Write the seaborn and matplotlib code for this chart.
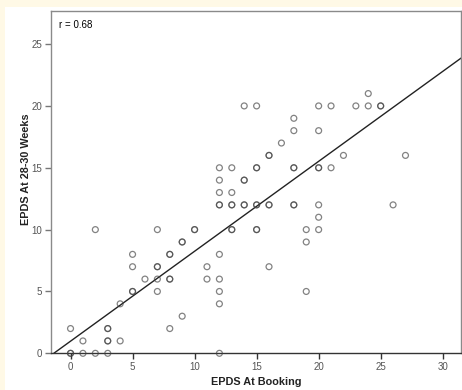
import matplotlib.pyplot as plt
import seaborn as sns
import pandas as pd
from matplotlib.patches import Rectangle

# EPDS scores (duplicates = darker overlapping circles)
booking = [0, 0, 1, 2, 3, 0, 1, 3, 3, 3, 3, 4, 4, 2, 5, 5, 5, 5, 6, 7,
           7, 7, 7, 7, 8, 8, 8, 8, 8, 9, 9, 9, 10, 10, 11, 11, 12, 12, 12, 12,
           12, 12, 12, 12, 12, 12, 13, 13, 13, 13, 13, 13, 14, 14, 14, 14, 14, 15, 15, 15,
           15, 15, 15, 15, 16, 16, 16, 16, 16, 17, 18, 18, 18, 18, 18, 18, 19, 19, 19, 20,
           20, 20, 20, 20, 20, 20, 21, 21, 22, 23, 24, 24, 25, 25, 26, 27]
weeks_28_30 = [0, 0, 0, 0, 0, 2, 1, 2, 2, 1, 1, 1, 4, 10, 5, 5, 7, 8, 6, 10,
               7, 7, 6, 5, 8, 8, 6, 6, 2, 9, 9, 3, 10, 10, 7, 6, 8, 6, 5, 4,
               0, 15, 14, 13, 12, 12, 15, 13, 12, 12, 10, 10, 20, 14, 14, 12, 12, 20, 15, 15,
               12, 12, 10, 10, 16, 16, 12, 12, 7, 17, 19, 18, 15, 15, 12, 12, 10, 9, 5, 20,
               18, 15, 15, 12, 11, 10, 20, 15, 16, 20, 21, 20, 20, 20, 12, 16]
r_text = "r = 0.68"

# fit line as drawn in the original (full sample)
fit_intercept = 0.98
fit_slope = 0.727

x_ticks = [0, 5, 10, 15, 20, 25, 30]
y_ticks = [0, 5, 10, 15, 20, 25]
x_range = (-1.6, 31.5)
y_range = (0, 27.7)

df = pd.DataFrame({"booking": booking, "weeks": weeks_28_30})

sns.set_theme(style="white")
plt.rcParams['font.family'] = ['Liberation Sans', 'DejaVu Sans']

fig = plt.figure(figsize=(4.62, 3.9), dpi=100)
fig.patch.set_facecolor('#FFF9E6')
# white panel behind the chart
fig.patches.append(Rectangle((5 / 462, 0), 1, 1 - 7 / 390, transform=fig.transFigure,
                             facecolor='white', edgecolor='none', zorder=-5))

ax = fig.add_axes([0.1097, 0.0941, 0.8888, 0.8785])
ax.set_facecolor('white')
ax.set_xlim(*x_range)
ax.set_ylim(*y_range)

sns.scatterplot(data=df, x="booking", y="weeks", ax=ax, s=18, marker='o',
                facecolor='none', edgecolor=(0.25, 0.25, 0.25, 0.65), linewidth=0.9,
                zorder=3, clip_on=False)
ax.axline((0, fit_intercept), slope=fit_slope, color='#222222', linewidth=1.0, zorder=2)

ax.set_xlim(*x_range)
ax.set_ylim(*y_range)
ax.set_xticks(x_ticks)
ax.set_yticks(y_ticks)

ax.text(0.02, 0.958, r_text, transform=ax.transAxes, fontsize=7,
        ha='left', va='center', color='black')

ax.set_xlabel("EPDS At Booking", fontsize=7.8, fontweight='bold', color='#222222')
ax.set_ylabel("EPDS At 28-30 Weeks", fontsize=7.8, fontweight='bold', color='#222222')
ax.xaxis.set_label_coords(0.5, -0.068)
ax.yaxis.set_label_coords(-0.048, 0.538)

ax.tick_params(axis='both', which='major', direction='out', length=4, width=1,
               labelsize=7, labelcolor='#555555', pad=2)
ax.tick_params(axis='x', bottom=True, color='#333333')
ax.tick_params(axis='y', left=True, color='#777777')

for side in ['top', 'right', 'left']:
    ax.spines[side].set_color('#8a8a8a')
    ax.spines[side].set_linewidth(1.0)
ax.spines['bottom'].set_color('#333333')
ax.spines['bottom'].set_linewidth(1.0)

fig.savefig("out.png", dpi=100, facecolor=fig.get_facecolor())
